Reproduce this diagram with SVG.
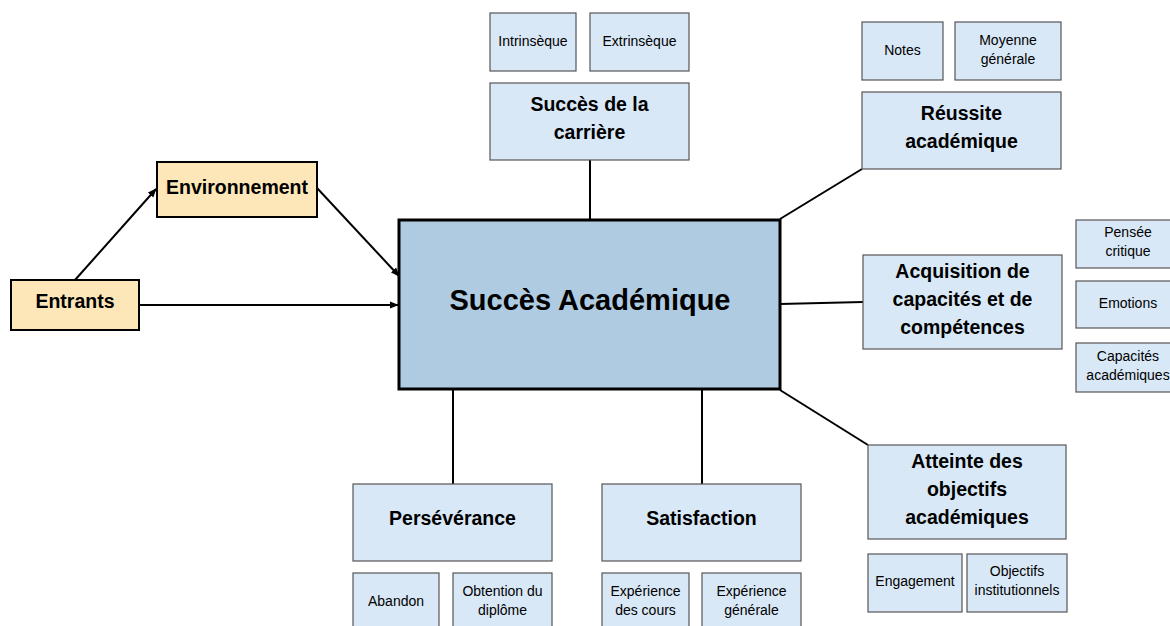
<svg xmlns="http://www.w3.org/2000/svg" width="1170" height="626" viewBox="0 0 1170 626">
<defs>
<marker id="arr" viewBox="0 0 10 10" refX="9" refY="5" markerWidth="9" markerHeight="9" orient="auto" markerUnits="userSpaceOnUse">
<path d="M0,1 L10,5 L0,9 z" fill="#000"/>
</marker>
<style>
text{font-family:"Liberation Sans",Arial,sans-serif;fill:#000;text-anchor:middle}
.in rect{fill:#fde6b8;stroke:#000;stroke-width:2}
.bx rect{fill:#d9e8f6;stroke:#555;stroke-width:1.2}
.main rect{fill:#afcbe1;stroke:#000;stroke-width:3}
.t{font-weight:bold;font-size:19.5px}
.s{font-size:14px}
.m{font-weight:bold;font-size:29px}
.c line{stroke:#000;stroke-width:2;fill:none}
</style>
</defs>
<rect width="1170" height="626" fill="#fff"/>
<g class="c" id="connectors">
<line x1="75" y1="280" x2="156" y2="189" marker-end="url(#arr)"/>
<line x1="317" y1="188" x2="399" y2="276" marker-end="url(#arr)"/>
<line x1="139" y1="305" x2="398" y2="305" marker-end="url(#arr)"/>
<line x1="590" y1="160" x2="590" y2="220"/>
<line x1="780" y1="219" x2="862" y2="169"/>
<line x1="780" y1="304" x2="863" y2="302"/>
<line x1="780" y1="390" x2="868" y2="445"/>
<line x1="453" y1="389" x2="453" y2="484"/>
<line x1="702" y1="389" x2="702" y2="484"/>
</g>
<g id="entrants" class="in"><rect x="11" y="280" width="128" height="50"/><text class="t" x="75" y="308">Entrants</text></g>
<g id="environnement" class="in"><rect x="157" y="162" width="160" height="55"/><text class="t" x="237" y="194">Environnement</text></g>
<g id="succes-academique" class="main"><rect x="399" y="220" width="381" height="169"/><text class="m" x="590" y="310">Succès Académique</text></g>

<g id="intrinseque" class="bx"><rect x="490" y="13" width="86" height="58"/><text class="s" x="533" y="45.5">Intrinsèque</text></g>
<g id="extrinseque" class="bx"><rect x="590" y="13" width="99" height="58"/><text class="s" x="639.5" y="45.5">Extrinsèque</text></g>
<g id="carriere" class="bx"><rect x="490" y="83" width="199" height="77"/><text class="t" x="589.5" y="111">Succès de la</text><text class="t" x="589.5" y="139">carrière</text></g>

<g id="notes" class="bx"><rect x="862" y="22" width="81" height="58"/><text class="s" x="902.5" y="54.5">Notes</text></g>
<g id="moyenne" class="bx"><rect x="955" y="22" width="106" height="58"/><text class="s" x="1008" y="45">Moyenne</text><text class="s" x="1008" y="64">générale</text></g>
<g id="reussite" class="bx"><rect x="862" y="92" width="199" height="77"/><text class="t" x="961.5" y="120">Réussite</text><text class="t" x="961.5" y="148">académique</text></g>

<g id="acquisition" class="bx"><rect x="863" y="255" width="199" height="94"/><text class="t" x="962.5" y="278">Acquisition de</text><text class="t" x="962.5" y="306">capacités et de</text><text class="t" x="962.5" y="334">compétences</text></g>
<g id="pensee" class="bx"><rect x="1076" y="220" width="100" height="48"/><text class="s" x="1128" y="237">Pensée</text><text class="s" x="1128" y="256">critique</text></g>
<g id="emotions" class="bx"><rect x="1076" y="281" width="100" height="47"/><text class="s" x="1128" y="308">Emotions</text></g>
<g id="capacites" class="bx"><rect x="1076" y="343" width="100" height="49"/><text class="s" x="1128" y="361">Capacités</text><text class="s" x="1128" y="380">académiques</text></g>

<g id="atteinte" class="bx"><rect x="868" y="445" width="198" height="94"/><text class="t" x="967" y="468">Atteinte des</text><text class="t" x="967" y="496">objectifs</text><text class="t" x="967" y="524">académiques</text></g>
<g id="engagement" class="bx"><rect x="868" y="554" width="94" height="58"/><text class="s" x="915" y="586">Engagement</text></g>
<g id="objectifs" class="bx"><rect x="967" y="554" width="100" height="58"/><text class="s" x="1017" y="576">Objectifs</text><text class="s" x="1017" y="595">institutionnels</text></g>

<g id="perseverance" class="bx"><rect x="353" y="484" width="199" height="77"/><text class="t" x="452.5" y="525">Persévérance</text></g>
<g id="abandon" class="bx"><rect x="353" y="573" width="86" height="60"/><text class="s" x="396" y="606">Abandon</text></g>
<g id="obtention" class="bx"><rect x="453" y="573" width="99" height="60"/><text class="s" x="502.5" y="596">Obtention du</text><text class="s" x="502.5" y="615">diplôme</text></g>

<g id="satisfaction" class="bx"><rect x="602" y="484" width="199" height="77"/><text class="t" x="701.5" y="525">Satisfaction</text></g>
<g id="exp-cours" class="bx"><rect x="602" y="573" width="87" height="60"/><text class="s" x="645.5" y="596">Expérience</text><text class="s" x="645.5" y="615">des cours</text></g>
<g id="exp-generale" class="bx"><rect x="702" y="573" width="99" height="60"/><text class="s" x="751.5" y="596">Expérience</text><text class="s" x="751.5" y="615">générale</text></g>
</svg>
